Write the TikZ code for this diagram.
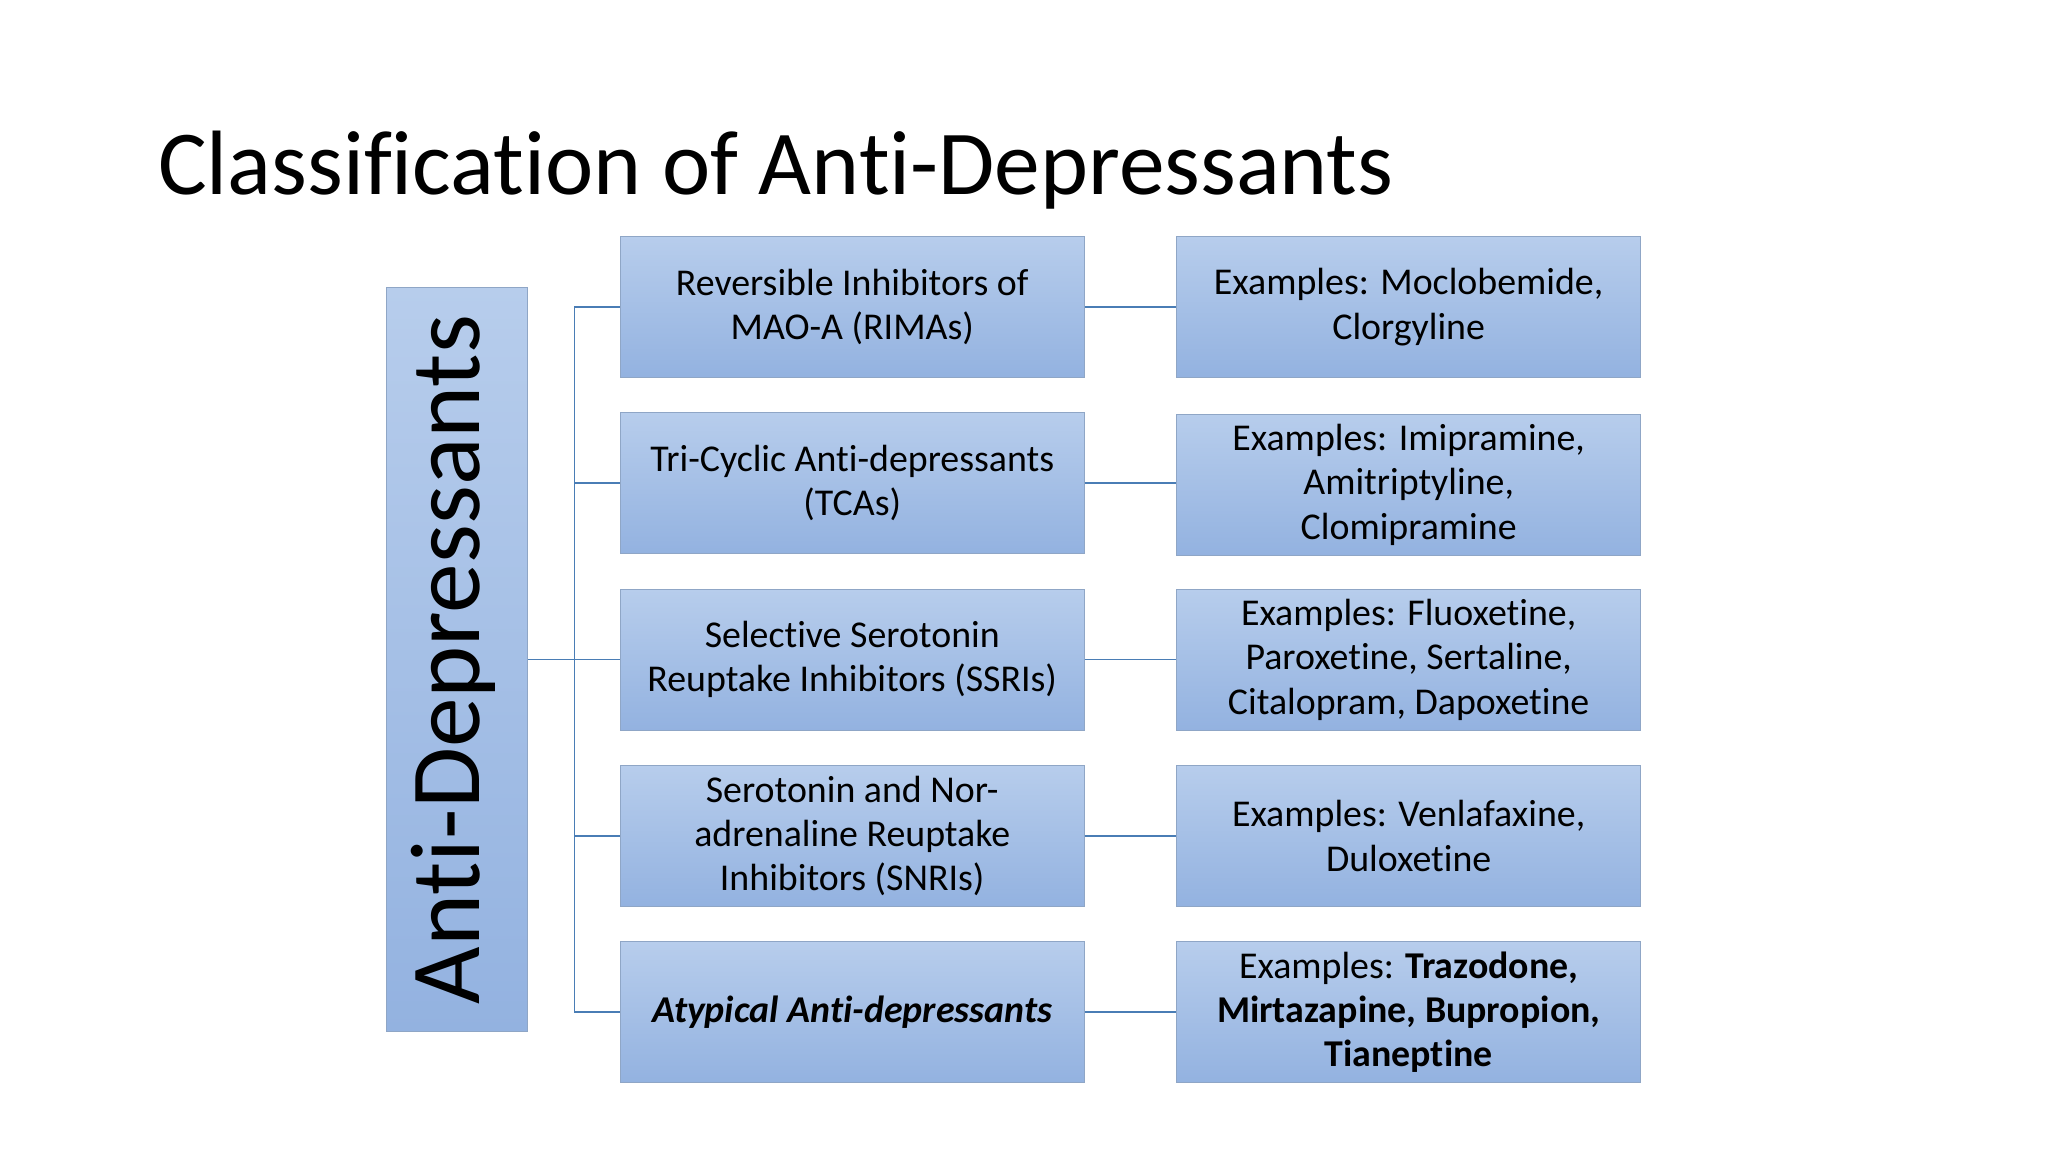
\documentclass[tikz,border=0pt]{standalone}
\usepackage{fontspec}
\setmainfont[Ligatures={NoCommon,NoRare}]{Carlito}
\definecolor{ctop}{HTML}{B7CDEC}
\definecolor{cbot}{HTML}{93B2E0}
\definecolor{cbd}{HTML}{8FA6C6}
\definecolor{cln}{HTML}{4A7DB5}
\begin{document}
\begin{tikzpicture}[x=0.5pt,y=-0.5pt,
  bx/.style={draw=cbd,top color=ctop,bottom color=cbot,
    minimum width=177.5pt,minimum height=54pt,align=center,font=\fontsize{14.5pt}{17pt}\selectfont,inner sep=1pt},
  ln/.style={draw=cln,line width=0.6pt}]
\useasboundingbox (0,0) rectangle (1568,882);
\fill[white] (0,0) rectangle (1568,882);
\node[anchor=west,font=\fontsize{35pt}{40pt}\selectfont] (t) at (114,130) {Classification of Anti-Depressants};
\node[bx,minimum width=54pt,minimum height=285pt] (ad) at (350,505) {};
\node[rotate=90,font=\fontsize{38pt}{40pt}\selectfont] (adt) at (347,505) {Anti-Depressants};
\node[bx] (a1) at (652.5,235) {Reversible Inhibitors of\\MAO-A (RIMAs)};
\node[bx] (a2) at (652.5,370) {Tri-Cyclic Anti-depressants\\(TCAs)};
\node[bx] (a3) at (652.5,505) {Selective Serotonin\\Reuptake Inhibitors (SSRIs)};
\node[bx] (a4) at (652.5,640) {Serotonin and Nor-\\adrenaline Reuptake\\Inhibitors (SNRIs)};
\node[bx] (a5) at (652.5,775) {\textbf{\textit{Atypical Anti-depressants}}};
\node[bx] (b1) at (1078.5,235) {Examples: Moclobemide,\\Clorgyline};
\node[bx] (b2) at (1078.5,371) {Examples: Imipramine,\\Amitriptyline,\\Clomipramine};
\node[bx] (b3) at (1078.5,505) {Examples: Fluoxetine,\\Paroxetine, Sertaline,\\Citalopram, Dapoxetine};
\node[bx] (b4) at (1078.5,640) {Examples: Venlafaxine,\\Duloxetine};
\node[bx] (b5) at (1078.5,775) {Examples: \textbf{Trazodone,}\\\textbf{Mirtazapine, Bupropion,}\\\textbf{Tianeptine}};
\coordinate (j) at (440,505);
\draw[ln] (ad.east) -- (j);
\foreach \i in {1,...,5}{
  \draw[ln] (j) |- (a\i.west);
  \draw[ln] (a\i.east) -- (b\i.west |- a\i.east);
}
\end{tikzpicture}
\end{document}
